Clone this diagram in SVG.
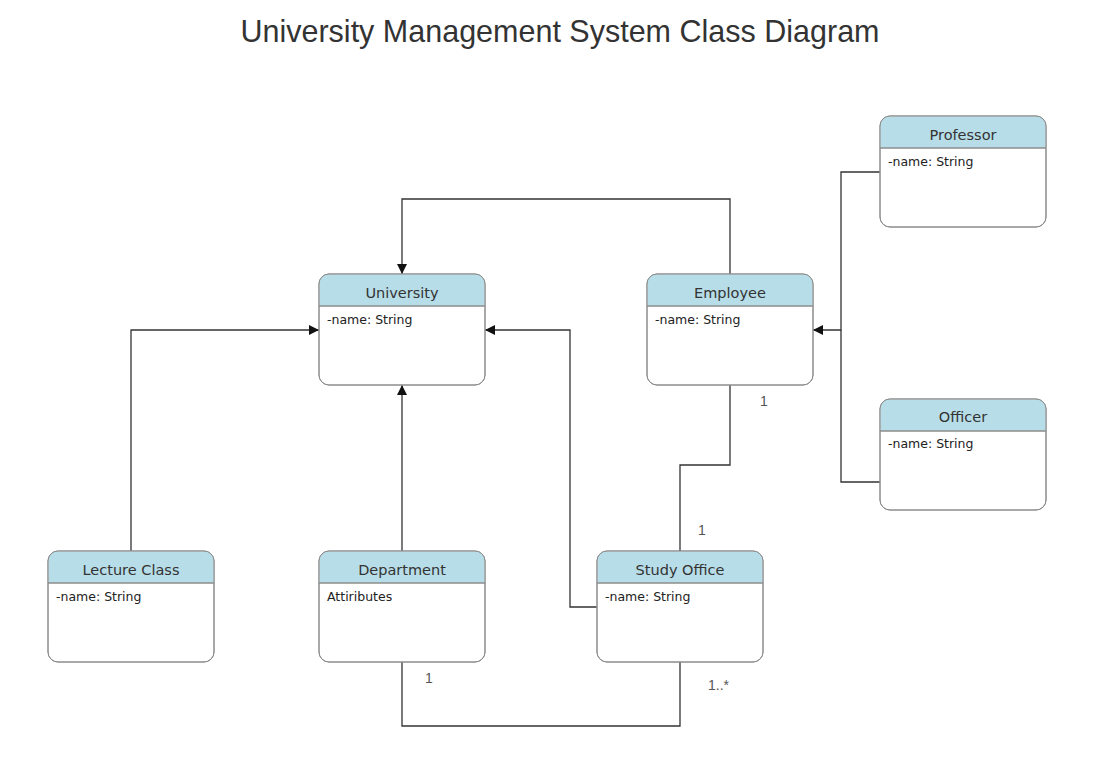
<svg xmlns="http://www.w3.org/2000/svg" width="1098" height="765" viewBox="0 0 1098 765">
  <defs>
    <style>
      .box { fill: #ffffff; stroke: #8c8c8c; stroke-width: 1; }
      .frame { fill: none; stroke: #8c8c8c; stroke-width: 1; }
      .head { fill: #b7dde8; }
      .sep { stroke: #8c8c8c; stroke-width: 1.5; }
      .cname { font-family: "DejaVu Sans", Verdana, sans-serif; font-size: 14.5px; fill: #333333; text-anchor: middle; }
      .attr { font-family: "DejaVu Sans", Verdana, sans-serif; font-size: 12.5px; fill: #222222; }
      .wire { fill: none; stroke: #333333; stroke-width: 1.3; }
      .mult { font-family: "Liberation Sans", Arial, sans-serif; font-size: 14px; fill: #555555; }
      .title { font-family: "Liberation Sans", Arial, sans-serif; font-size: 30.5px; fill: #333333; text-anchor: middle; }
    </style>
    <marker id="arrow" viewBox="0 0 10 10" refX="10" refY="5" markerWidth="10" markerHeight="10" markerUnits="userSpaceOnUse" orient="auto">
      <path d="M0,0 L10,5 L0,10 Z" fill="#111111"/>
    </marker>
    <clipPath id="hdr"><rect x="0" y="0" width="166" height="111" rx="10"/></clipPath>
  </defs>

  <rect width="1098" height="765" fill="#ffffff"/>
  <text class="title" x="560" y="42">University Management System Class Diagram</text>

  <g id="connectors">
    <path class="wire" d="M730,274 V199 H402 V274" marker-end="url(#arrow)"/>
    <path class="wire" d="M131,551 V330 H319" marker-end="url(#arrow)"/>
    <path class="wire" d="M402,551 V385" marker-end="url(#arrow)"/>
    <path class="wire" d="M597,607 H570 V330 H485" marker-end="url(#arrow)"/>
    <path class="wire" d="M880,172 H841 V330 H813" marker-end="url(#arrow)"/>
    <path class="wire" d="M880,482 H841 V330"/>
    <path class="wire" d="M730,385 V465 H680 V551"/>
    <path class="wire" d="M402,662 V726 H680 V662"/>
    <text class="mult" x="760" y="406">1</text>
    <text class="mult" x="698" y="535">1</text>
    <text class="mult" x="425" y="683">1</text>
    <text class="mult" x="708" y="690">1..*</text>
  </g>

  <g id="university" transform="translate(319,274)">
    <rect class="box" width="166" height="111" rx="10"/>
    <rect class="head" x="0.5" y="0.5" width="165" height="31.5" clip-path="url(#hdr)"/>
    <rect class="frame" width="166" height="111" rx="10"/>
    <line class="sep" x1="0" y1="32" x2="166" y2="32"/>
    <text class="cname" x="83" y="24">University</text>
    <text class="attr" x="8" y="50">-name: String</text>
  </g>

  <g id="employee" transform="translate(647,274)">
    <rect class="box" width="166" height="111" rx="10"/>
    <rect class="head" x="0.5" y="0.5" width="165" height="31.5" clip-path="url(#hdr)"/>
    <rect class="frame" width="166" height="111" rx="10"/>
    <line class="sep" x1="0" y1="32" x2="166" y2="32"/>
    <text class="cname" x="83" y="24">Employee</text>
    <text class="attr" x="8" y="50">-name: String</text>
  </g>

  <g id="professor" transform="translate(880,116)">
    <rect class="box" width="166" height="111" rx="10"/>
    <rect class="head" x="0.5" y="0.5" width="165" height="31.5" clip-path="url(#hdr)"/>
    <rect class="frame" width="166" height="111" rx="10"/>
    <line class="sep" x1="0" y1="32" x2="166" y2="32"/>
    <text class="cname" x="83" y="24">Professor</text>
    <text class="attr" x="8" y="50">-name: String</text>
  </g>

  <g id="officer" transform="translate(880,399)">
    <rect class="box" width="166" height="111" rx="10"/>
    <rect class="head" x="0.5" y="0.5" width="165" height="31.5" clip-path="url(#hdr)"/>
    <rect class="frame" width="166" height="111" rx="10"/>
    <line class="sep" x1="0" y1="32" x2="166" y2="32"/>
    <text class="cname" x="83" y="23">Officer</text>
    <text class="attr" x="8" y="49">-name: String</text>
  </g>

  <g id="lecture-class" transform="translate(48,551)">
    <rect class="box" width="166" height="111" rx="10"/>
    <rect class="head" x="0.5" y="0.5" width="165" height="31.5" clip-path="url(#hdr)"/>
    <rect class="frame" width="166" height="111" rx="10"/>
    <line class="sep" x1="0" y1="32" x2="166" y2="32"/>
    <text class="cname" x="83" y="24">Lecture Class</text>
    <text class="attr" x="8" y="50">-name: String</text>
  </g>

  <g id="department" transform="translate(319,551)">
    <rect class="box" width="166" height="111" rx="10"/>
    <rect class="head" x="0.5" y="0.5" width="165" height="31.5" clip-path="url(#hdr)"/>
    <rect class="frame" width="166" height="111" rx="10"/>
    <line class="sep" x1="0" y1="32" x2="166" y2="32"/>
    <text class="cname" x="83" y="24">Department</text>
    <text class="attr" x="8" y="50">Attiributes</text>
  </g>

  <g id="study-office" transform="translate(597,551)">
    <rect class="box" width="166" height="111" rx="10"/>
    <rect class="head" x="0.5" y="0.5" width="165" height="31.5" clip-path="url(#hdr)"/>
    <rect class="frame" width="166" height="111" rx="10"/>
    <line class="sep" x1="0" y1="32" x2="166" y2="32"/>
    <text class="cname" x="83" y="24">Study Office</text>
    <text class="attr" x="8" y="50">-name: String</text>
  </g>
</svg>
